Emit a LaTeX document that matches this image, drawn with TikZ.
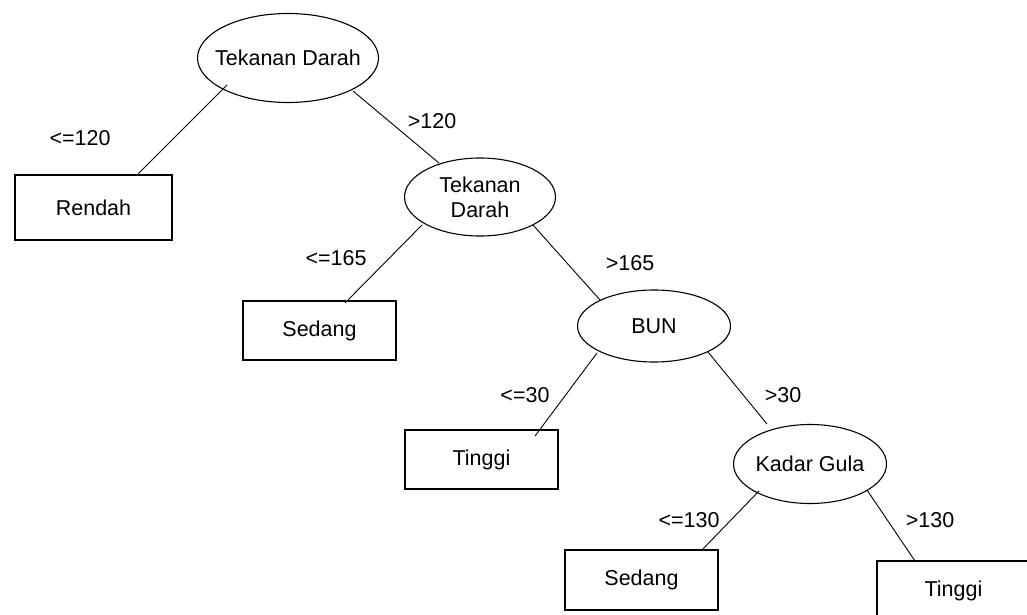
\documentclass[tikz,border=0pt]{standalone}
\usepackage{fontspec}
\setmainfont{Liberation Sans}
\usetikzlibrary{shapes.geometric,calc}
\begin{document}
\begin{tikzpicture}[x=1pt,y=-1pt,
  every node/.style={font=\fontsize{21.5}{25}\selectfont, inner sep=0pt},
  decision/.style={ellipse, draw, line width=1.1pt, align=center, inner sep=-25pt},
  leaf/.style={rectangle, draw, line width=1.1pt},
  edge/.style={line width=0.9pt},
  lbl/.style={}]
\clip (0,0) rectangle (1027,615);
\fill[white] (0,0) rectangle (1027,615);
% decision nodes
\node[decision, minimum width=181pt, minimum height=89pt] (e1) at (288,58) {Tekanan Darah};
\node[decision, minimum width=151pt, minimum height=78pt] (e2) at (480,197) {Tekanan\\Darah};
\node[decision, minimum width=153pt, minimum height=72pt] (bun) at (654,326) {BUN};
\node[decision, minimum width=153pt, minimum height=79pt] (kg) at (810,464) {Kadar Gula};
% leaves
\node[leaf, minimum width=157pt, minimum height=65pt] (r1) at (93.5,207.5) {Rendah};
\node[leaf, minimum width=153pt, minimum height=59pt] (s1) at (319.5,330.5) {Sedang};
\node[leaf, minimum width=153pt, minimum height=59pt] (t1) at (481.5,459.5) {Tinggi};
\node[leaf, minimum width=153pt, minimum height=60pt] (s2) at (641.5,580) {Sedang};
\node[leaf, minimum width=153pt, minimum height=59pt] (t2) at (953.5,590.5) {Tinggi};
% connectors
\draw[edge] ($(e1.center)+(-61,27)$) -- ($(r1.center)+(44.5,-33.5)$);
\draw[edge] ($(e1.center)+(65,33)$) -- ($(e2.center)+(-41,-34)$);
\draw[edge] ($(e2.center)+(-58,28)$) -- ($(s1.center)+(25.5,-27.5)$);
\draw[edge] ($(e2.center)+(53,28)$) -- ($(bun.center)+(-54,-26)$);
\draw[edge] ($(bun.center)+(-57,27)$) -- ($(t1.center)+(53.5,-23.5)$);
\draw[edge] ($(bun.center)+(54,26)$) -- ($(kg.center)+(-43,-40)$);
\draw[edge] ($(kg.center)+(-51,27)$) -- ($(s2.center)+(60.5,-30)$);
\draw[edge] ($(kg.center)+(57,26)$) -- ($(t2.center)+(-38.5,-29.5)$);
% labels
\node[lbl] (l1) at (80,138) {<=120};
\node[lbl] (l2) at (432,121) {>120};
\node[lbl] (l3) at (336,258) {<=165};
\node[lbl] (l4) at (630,263) {>165};
\node[lbl] (l5) at (525,395) {<=30};
\node[lbl] (l6) at (783,395) {>30};
\node[lbl] (l7) at (689,520) {<=130};
\node[lbl] (l8) at (930,520) {>130};
\end{tikzpicture}
\end{document}
